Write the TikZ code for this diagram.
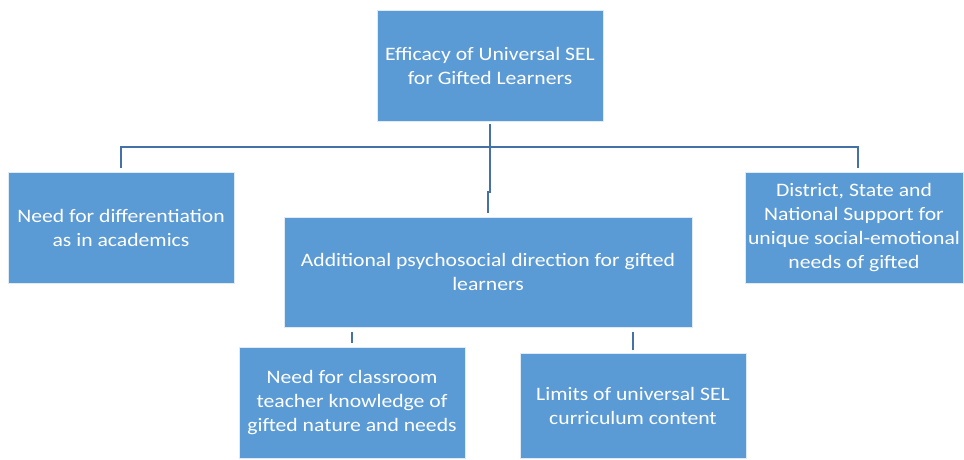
\documentclass[tikz,border=0pt]{standalone}
\usepackage{fontspec}
\setmainfont{Carlito}[FakeStretch=1.14]
\definecolor{boxfill}{RGB}{91,155,213}
\definecolor{boxedge}{RGB}{222,234,246}
\definecolor{linecol}{RGB}{68,114,166}
\begin{document}
\begin{tikzpicture}[x=1pt,y=-1pt,
  box/.style={draw=boxedge, line width=0.8pt, fill=boxfill, text=white, align=center, inner sep=0pt, font=\fontsize{19}{24}\selectfont},
  conn/.style={draw=linecol, line width=2.3pt}]
\useasboundingbox (0,0) rectangle (964,460);
\node[box, minimum width=226, minimum height=111] (top) at (490,65.5) {Efficacy of Universal SEL\\for Gifted Learners};
\node[box, minimum width=226, minimum height=111] (left) at (121,227.5) {Need for differentiation\\as in academics};
\node[box, minimum width=218, minimum height=111] (right) at (854,227.5) {District, State and\\National Support for\\unique social-emotional\\needs of gifted};
\node[box, minimum width=408, minimum height=110] (mid) at (488,272) {Additional psychosocial direction for gifted\\learners};
\node[box, minimum width=226, minimum height=111] (bl) at (352,402.5) {Need for classroom\\teacher knowledge of\\gifted nature and needs};
\node[box, minimum width=226, minimum height=105] (br) at (633,405.5) {Limits of universal SEL\\curriculum content};
\coordinate (jog1) at (490,192);
\coordinate (jog2) at (488,192);
\coordinate (hl) at (121,147);
\coordinate (hr) at (858,147);
\coordinate (rdrop) at (858,168);
\draw[conn] ([yshift=-3pt]top.south) -- (jog1) -- (jog2) -- ([yshift=4pt]mid.north);
\draw[conn] ([yshift=4pt]left.north) -- (hl) -- (hr) -- (rdrop);
\draw[conn, line width=2pt] ([yshift=-5pt]mid.south -| bl.north) -- ([yshift=4pt]bl.north);
\draw[conn, line width=2pt] ([yshift=-5pt]mid.south -| br.north) -- ([yshift=3pt]br.north);
\end{tikzpicture}
\end{document}
